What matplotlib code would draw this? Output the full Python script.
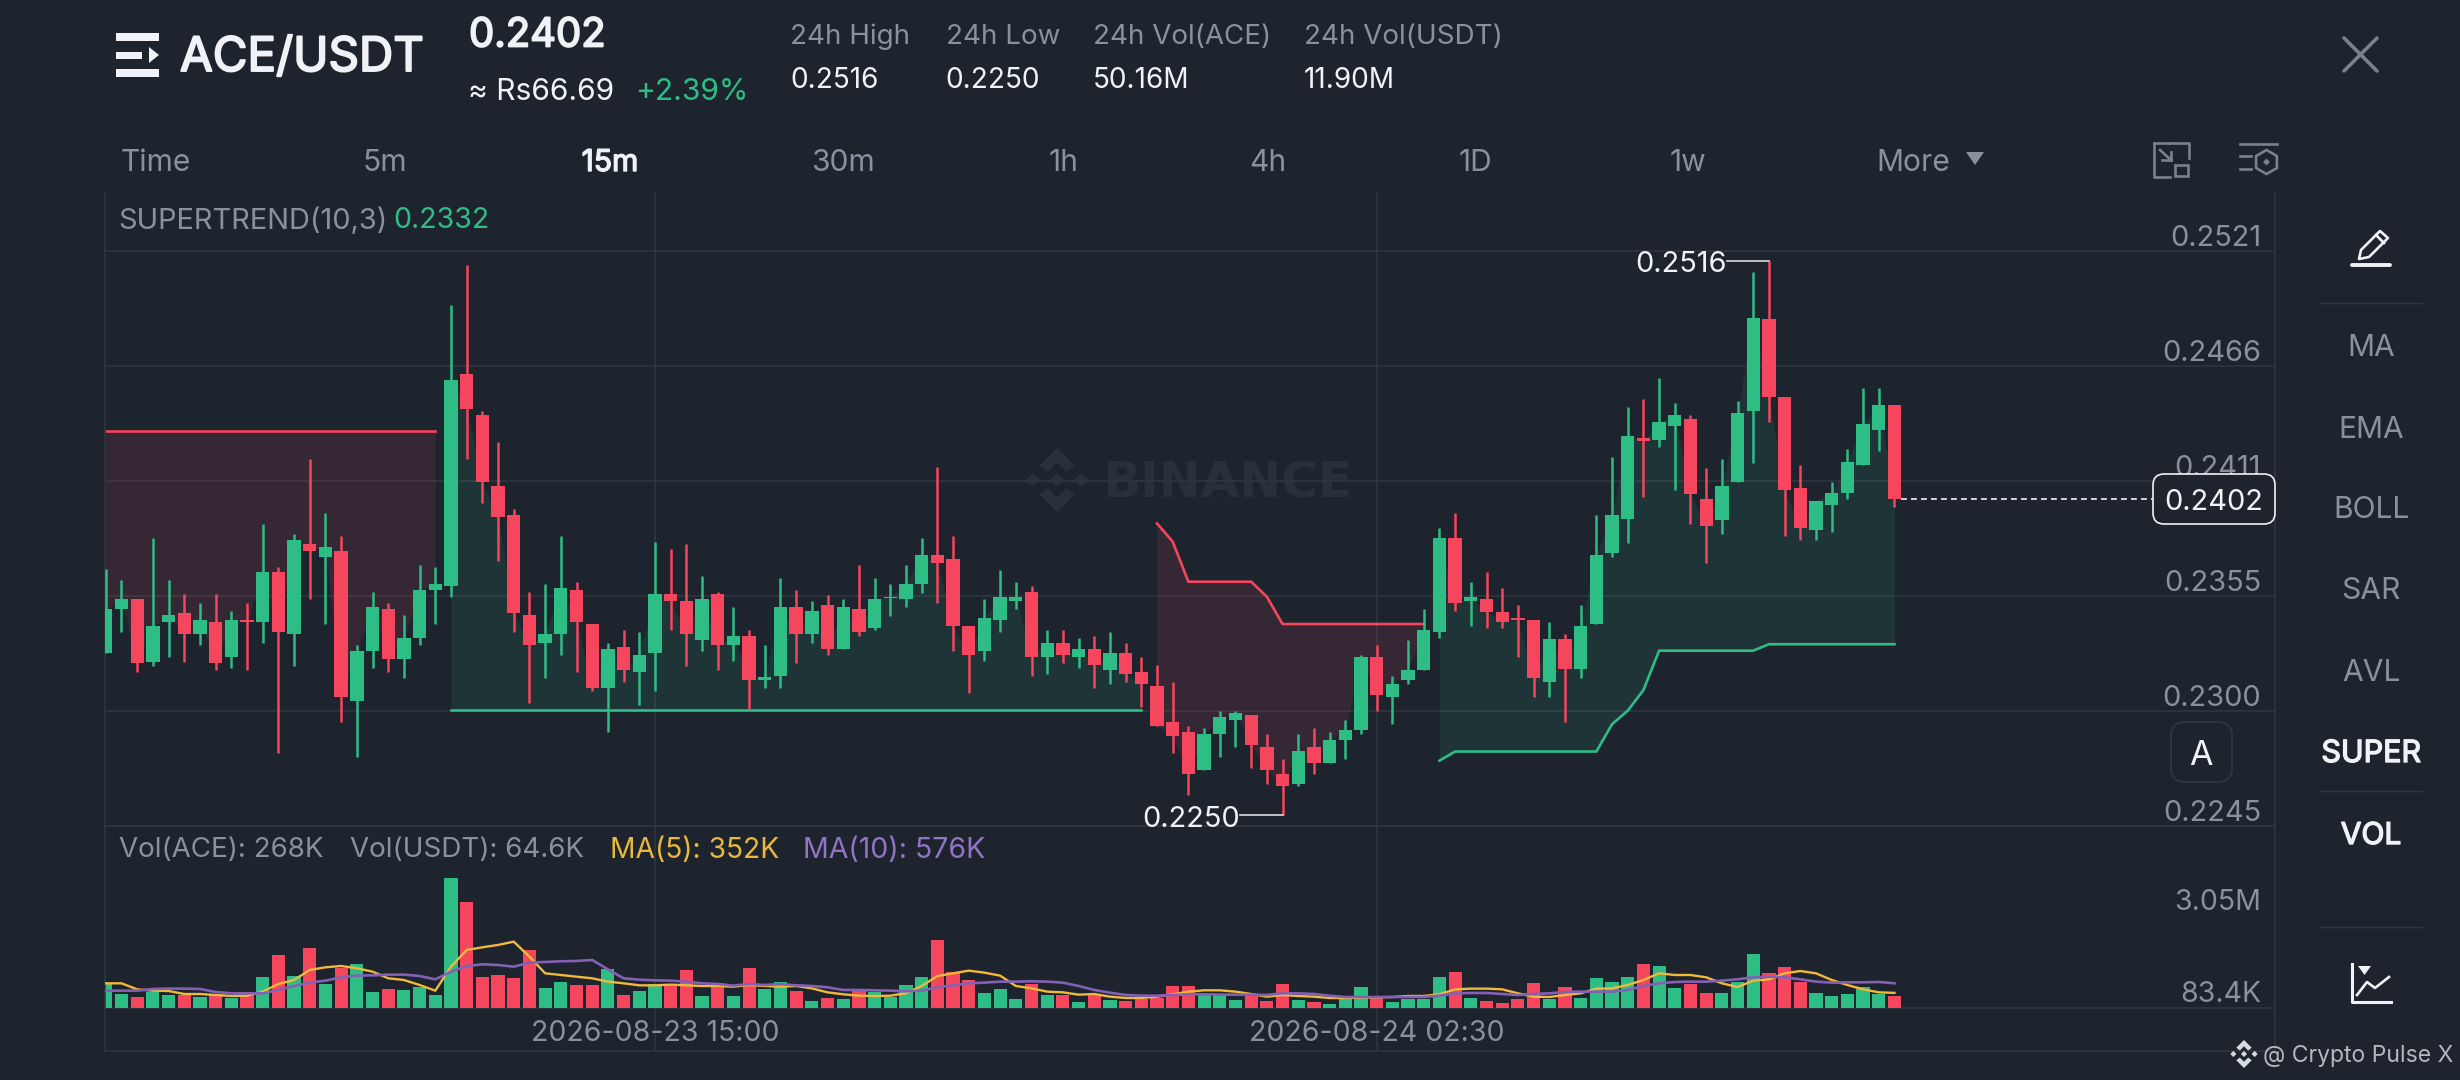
import matplotlib
matplotlib.use("Agg")
import matplotlib.pyplot as plt
import matplotlib.patheffects as pe
from matplotlib.patches import FancyBboxPatch, Polygon, Rectangle, RegularPolygon

plt.rcParams['font.family'] = ['Inter', 'Noto Sans', 'DejaVu Sans']

# ---------- data ----------
opens = [0.23280,0.23490,0.23539,0.23237,0.23429,0.23469,0.23370,0.23429,0.23259,0.23439,0.23429,0.23669,0.23370,0.23800,0.23739,0.23770,0.23050,0.23290,0.23490,0.23250,0.23349,0.23579,0.23600,0.24619,0.24419,0.24079,0.23939,0.23459,0.23328,0.23370,0.23579,0.23419,0.23109,0.23309,0.23189,0.23280,0.23560,0.23530,0.23341,0.23560,0.23319,0.23359,0.23149,0.23170,0.23499,0.23370,0.23509,0.23298,0.23490,0.23399,0.23543,0.23539,0.23610,0.23749,0.23730,0.23410,0.23288,0.23439,0.23528,0.23570,0.23259,0.23328,0.23259,0.23298,0.23199,0.23279,0.23189,0.23119,0.22949,0.22899,0.22719,0.22888,0.22959,0.22979,0.22829,0.22698,0.22648,0.22829,0.22749,0.22859,0.22909,0.23259,0.23069,0.23149,0.23199,0.23379,0.23829,0.23530,0.23540,0.23478,0.23448,0.23439,0.23139,0.23348,0.23201,0.23418,0.23760,0.23921,0.24310,0.24299,0.24370,0.24401,0.24020,0.23919,0.24101,0.24440,0.24880,0.24510,0.24070,0.23871,0.23989,0.24049,0.24179,0.24351,0.24471]
highs = [0.23680,0.23629,0.23539,0.23829,0.23629,0.23560,0.23520,0.23560,0.23479,0.23520,0.23899,0.23690,0.23850,0.24210,0.23949,0.23840,0.23319,0.23570,0.23519,0.23459,0.23699,0.23690,0.24949,0.25141,0.24439,0.24290,0.23968,0.23570,0.23610,0.23840,0.23619,0.23419,0.23328,0.23389,0.23379,0.23810,0.23779,0.23800,0.23650,0.23570,0.23499,0.23389,0.23319,0.23639,0.23579,0.23528,0.23559,0.23539,0.23699,0.23640,0.23610,0.23699,0.23829,0.24170,0.23839,0.23410,0.23539,0.23679,0.23619,0.23599,0.23389,0.23389,0.23349,0.23359,0.23379,0.23328,0.23259,0.23219,0.23139,0.22928,0.22919,0.22999,0.22999,0.22979,0.22890,0.22770,0.22890,0.22919,0.22899,0.22959,0.23269,0.23319,0.23168,0.23339,0.23488,0.23879,0.23949,0.23619,0.23669,0.23590,0.23509,0.23439,0.23429,0.23369,0.23509,0.23941,0.24219,0.24461,0.24500,0.24601,0.24479,0.24419,0.24169,0.24209,0.24490,0.25110,0.25160,0.24510,0.24179,0.24008,0.24099,0.24260,0.24550,0.24550,0.24471]
lows = [0.23280,0.23381,0.23189,0.23218,0.23261,0.23237,0.23319,0.23197,0.23208,0.23199,0.23328,0.22797,0.23218,0.23539,0.23419,0.22949,0.22778,0.23208,0.23189,0.23159,0.23319,0.23419,0.23549,0.24210,0.23999,0.23720,0.23379,0.23039,0.23159,0.23269,0.23189,0.23098,0.22898,0.23138,0.23029,0.23098,0.23389,0.23218,0.23288,0.23199,0.23239,0.23008,0.23109,0.23109,0.23229,0.23328,0.23269,0.23298,0.23359,0.23389,0.23458,0.23499,0.23568,0.23519,0.23288,0.23088,0.23239,0.23379,0.23488,0.23168,0.23179,0.23229,0.23208,0.23109,0.23128,0.23139,0.23018,0.22930,0.22799,0.22599,0.22719,0.22779,0.22829,0.22728,0.22648,0.22500,0.22639,0.22699,0.22749,0.22770,0.22888,0.22999,0.22939,0.23128,0.23199,0.23349,0.23479,0.23408,0.23400,0.23400,0.23259,0.23069,0.23069,0.22949,0.23160,0.23418,0.23741,0.23809,0.24030,0.24270,0.24059,0.23900,0.23710,0.23850,0.24101,0.24190,0.24390,0.23840,0.23820,0.23820,0.23859,0.24020,0.24179,0.24250,0.23981]
closes = [0.23488,0.23539,0.23229,0.23408,0.23459,0.23370,0.23439,0.23229,0.23439,0.23427,0.23669,0.23379,0.23819,0.23770,0.23789,0.23069,0.23288,0.23499,0.23250,0.23349,0.23579,0.23610,0.24589,0.24450,0.24099,0.23930,0.23469,0.23319,0.23370,0.23589,0.23429,0.23109,0.23298,0.23199,0.23269,0.23560,0.23530,0.23370,0.23539,0.23319,0.23359,0.23149,0.23162,0.23499,0.23370,0.23479,0.23298,0.23499,0.23379,0.23539,0.23549,0.23610,0.23749,0.23709,0.23410,0.23269,0.23448,0.23549,0.23549,0.23259,0.23328,0.23269,0.23298,0.23219,0.23279,0.23179,0.23128,0.22930,0.22879,0.22699,0.22890,0.22970,0.22989,0.22839,0.22719,0.22639,0.22808,0.22749,0.22859,0.22909,0.23259,0.23079,0.23128,0.23199,0.23389,0.23829,0.23519,0.23549,0.23478,0.23429,0.23437,0.23161,0.23348,0.23201,0.23408,0.23749,0.23940,0.24320,0.24298,0.24389,0.24419,0.24041,0.23890,0.24080,0.24430,0.24889,0.24510,0.24059,0.23881,0.24008,0.24049,0.24198,0.24380,0.24469,0.24020]

# supertrend segments: (start index, values)
st_red_1 = [0.24346] * 22
st_green_1 = [0.23005] * 45
st_red_2 = [0.23901,0.23813,0.23621,0.23621,0.23621,0.23621,0.23621,0.23549,0.23418,0.23418,0.23418,0.23418,0.23418,0.23418,0.23418,0.23418,0.23418,0.23418]
st_green_2 = [0.22762,0.22806,0.22806,0.22806,0.22806,0.22806,0.22806,0.22806,0.22806,0.22806,0.22806,0.22937,0.23002,0.23101,0.23290,0.23290,0.23290,0.23290,0.23290,0.23290,0.23290,0.23321,0.23321,0.23321,0.23321,0.23321,0.23321,0.23321,0.23321,0.23321]

volumes = [575,326,249,365,303,303,264,303,241,303,730,1235,746,1391,559,925,1026,365,435,420,497,295,3030,2471,730,769,692,1344,458,614,536,536,901,311,396,559,513,894,272,591,287,932,435,598,404,163,233,202,420,381,264,536,723,1577,839,660,342,435,202,559,295,311,148,311,194,163,218,233,521,521,311,303,194,280,163,567,186,148,85,202,490,225,148,218,202,730,831,241,155,109,210,583,202,490,233,699,614,715,1018,979,466,559,357,350,598,1251,824,956,598,357,287,319,490,326,268]
ma5_vol = [575,575,435,404,396,326,326,303,280,287,381,559,653,886,948,979,925,847,692,653,536,404,963,1352,1414,1469,1546,1197,808,769,730,692,614,575,528,528,544,528,513,513,497,536,513,497,513,458,365,319,287,280,287,342,513,746,808,870,824,754,513,458,381,365,311,326,264,233,233,264,319,381,412,412,381,326,264,303,280,264,233,233,241,249,256,280,280,319,435,451,451,435,342,264,256,303,342,451,458,536,653,808,769,769,715,575,490,637,668,808,862,808,653,536,435,365,352]
ma10_vol = [404,404,404,443,451,451,443,373,342,342,342,420,513,591,637,715,754,761,777,777,746,668,847,979,1018,1002,963,1057,1072,1088,1096,1119,901,692,660,645,637,614,575,559,521,559,536,559,528,513,482,420,420,412,404,389,404,482,528,575,591,614,614,622,614,591,513,420,357,303,287,287,303,319,319,311,311,311,303,342,342,326,287,256,256,256,256,256,256,287,342,350,350,326,303,326,342,373,381,381,381,420,513,575,606,614,614,637,668,715,730,715,668,614,591,598,598,606,576]

price_ticks = [0.2521, 0.24658, 0.24106, 0.23554, 0.23002, 0.2245]
price_tick_labels = ['0.2521', '0.2466', '0.2411', '0.2355', '0.2300', '0.2245']
date_ticks = [35, 81]
date_labels = ['2026-08-23 15:00', '2026-08-24 02:30']
period_tabs = [('Time', 121, 'left'), ('5m', 385, 'center'), ('30m', 843, 'center'), ('1h', 1064, 'center'),
               ('4h', 1268, 'center'), ('1D', 1476, 'center'), ('1w', 1688, 'center'), ('More', 1876, 'left')]
side_labels = [('MA', 345), ('EMA', 427), ('BOLL', 507), ('SAR', 588), ('AVL', 670)]

# ---------- colours ----------
BG = '#1e242e'
GRID = '#30363f'
GREEN = '#2ebd85'
RED = '#f6465d'
GRAY = '#8a919e'
WHITE = '#f0f2f5'
YELLOW = '#f0b93a'
PURPLE = '#8460b4'

W, H = 2460, 1080
fig = plt.figure(figsize=(W / 100, H / 100), dpi=100, facecolor=BG)

def rect(l, t, r, b):
    return [l / W, 1 - b / H, (r - l) / W, (b - t) / H]

def overlay(z):
    a = fig.add_axes([0, 0, 1, 1], zorder=z)
    a.set_xlim(0, W); a.set_ylim(H, 0); a.axis('off')
    a.patch.set_alpha(0)
    return a

bg = overlay(0)
ui = overlay(5)
pt = 0.72  # points per pixel at 100 dpi
DY = 3     # Inter's box sits a little high when centred

def T(x, y, s, em, c=GRAY, ha='left', stroke=0, ax=ui, **kw):
    t = ax.text(x, y + DY, s, fontsize=em * pt, color=c, ha=ha, va='center', **kw)
    if stroke:
        t.set_path_effects([pe.withStroke(linewidth=stroke, foreground=c)])
    return t

def logo(ax, cx, cy, r, c):
    pts = [
        [(0, -1), (.55, -.45), (.3, -.25), (0, -.55), (-.3, -.25), (-.55, -.45)],
        [(0, 1), (.55, .45), (.3, .25), (0, .55), (-.3, .25), (-.55, .45)],
        [(0, -.22), (.22, 0), (0, .22), (-.22, 0)],
        [(-.76, -.22), (-.54, 0), (-.76, .22), (-.98, 0)],
        [(.76, -.22), (.98, 0), (.76, .22), (.54, 0)],
    ]
    for p in pts:
        ax.add_patch(Polygon([(cx + r * a, cy + r * b) for a, b in p], closed=True, fc=c, ec='none'))

# watermark
logo(bg, 1057, 480, 32, '#2a303b')
bg.text(1102, 484, 'BINANCE', fontsize=50 * pt, color='#2a303b', ha='left', va='center',
        family='DejaVu Sans', fontweight='bold')

# ---------- price pane ----------
n = len(closes)
idx = list(range(n))
X0, STEP = 105.8, 15.69
L, R = 105, 2275
xlim = ((L - X0) / STEP, (R - X0) / STEP)
Y_TOP, Y_BOT = 193, 825.7
PY = 0.0055 / 115 * 1.0036

ax = fig.add_axes(rect(L, Y_TOP, R, Y_BOT), zorder=2)
ax.patch.set_alpha(0)
ax.set_xlim(*xlim)
ax.set_ylim(0.2245, 0.2521 + (250.7 - Y_TOP) * PY)
for s in ax.spines.values():
    s.set_visible(False)
ax.spines['left'].set_visible(True); ax.spines['left'].set_color(GRID); ax.spines['left'].set_linewidth(1.2)
ax.spines['right'].set_visible(True); ax.spines['right'].set_color(GRID); ax.spines['right'].set_linewidth(1.2)
ax.spines['bottom'].set_visible(True); ax.spines['bottom'].set_color(GRID); ax.spines['bottom'].set_linewidth(1.4)
ax.set_yticks(price_ticks)
ax.set_xticks(date_ticks)
ax.tick_params(length=0, labelleft=False, labelbottom=False)
ax.grid(True, axis='both', color=GRID, lw=1.2, zorder=0)
ax.set_axisbelow(True)

def band(start, vals, col):
    xs = idx[start:start + len(vals)]
    cl = closes[start:start + len(vals)]
    ax.fill_between(xs, vals, cl, color=col, alpha=0.11, lw=0, zorder=1)
    ax.plot(xs, vals, color=col, lw=1.9, zorder=2, solid_joinstyle='round')

band(0, st_red_1, RED)
band(22, st_green_1, GREEN)
band(67, st_red_2, RED)
band(85, st_green_2, GREEN)

cols = [GREEN if c >= o else RED for o, c in zip(opens, closes)]
ax.vlines(idx, lows, highs, colors=cols, lw=1.8, zorder=3)
ax.bar(idx, [abs(c - o) for o, c in zip(opens, closes)], bottom=[min(o, c) for o, c in zip(opens, closes)],
       width=0.85, color=cols, zorder=4, lw=0)
ax.set_xlim(*xlim)

for v, lab in zip(price_ticks, price_tick_labels):
    ax.annotate(lab, xy=(1, v), xycoords=('axes fraction', 'data'), xytext=(-14 * pt, 12.5 * pt),
                textcoords='offset points', ha='right', va='center', color=GRAY, fontsize=29 * pt)

# high / low tags
imax = highs.index(max(highs)); imin = lows.index(min(lows))
ax.plot([imax - 2.7, imax], [highs[imax]] * 2, color='#d8dadd', lw=1.2, zorder=5)
ax.annotate(f'{highs[imax]:.4f}', xy=(imax - 2.7, highs[imax]), xytext=(0, -2.2), textcoords='offset points',
            ha='right', va='center', color=WHITE, fontsize=29 * pt)
ax.plot([imin - 2.7, imin], [lows[imin]] * 2, color='#d8dadd', lw=1.2, zorder=5)
ax.annotate(f'{lows[imin]:.4f}', xy=(imin - 2.7, lows[imin]), xytext=(0, -3), textcoords='offset points',
            ha='right', va='center', color=WHITE, fontsize=29 * pt)

# last price line
ax.plot([n - 1 + 0.4, (2153 - X0) / STEP], [closes[-1]] * 2, color=WHITE, lw=1.2, ls=(0, (3.5, 2.5)), zorder=5)
ui.add_patch(FancyBboxPatch((2153, 474), 122, 50, boxstyle='round,pad=0,rounding_size=11', fc=BG, ec=WHITE, lw=1.2))
T(2214, 499, f'{closes[-1]:.4f}', 29, WHITE, ha='center')

# ---------- volume pane ----------
V_TOP, V_BOT, V_BASE = 825.7, 1050.7, 1008
KPX = 23.3
av = fig.add_axes(rect(L, V_TOP, R, V_BOT), zorder=2)
av.patch.set_alpha(0)
av.set_xlim(*xlim)
av.set_ylim(-(V_BOT - V_BASE) * KPX, (V_BASE - V_TOP) * KPX)
for s in av.spines.values():
    s.set_color(GRID); s.set_linewidth(1.2)
av.spines['top'].set_visible(False)
av.set_yticks([0]); av.set_xticks(date_ticks)
av.tick_params(length=0, labelleft=False, labelbottom=False)
av.grid(True, axis='both', color=GRID, lw=1.2, zorder=0)
av.set_axisbelow(True)
av.bar(idx, volumes, width=0.84, color=cols, lw=0, zorder=2)
av.plot(idx, ma5_vol, color=YELLOW, lw=1.7, zorder=3)
av.plot(idx, ma10_vol, color=PURPLE, lw=1.9, zorder=4)
av.set_xlim(*xlim)
for d, lab in zip(date_ticks, date_labels):
    av.annotate(lab, xy=(d, 0), xycoords=('data', 'axes fraction'), xytext=(0, 17.5 * pt), textcoords='offset points',
                ha='center', va='center', color=GRAY, fontsize=28.5 * pt)

T(2261, 899, '3.05M', 28.5, GRAY, ha='right')
T(2261, 991, '83.4K', 28.5, GRAY, ha='right')
T(119, 847, 'Vol(ACE): 268K', 27.8)
T(350, 847, 'Vol(USDT): 64.6K', 27.8)
T(610, 847, 'MA(5): 352K', 28.2, '#e8b83a')
T(803, 847, 'MA(10): 576K', 28.5, '#9273c6')

# ---------- header ----------
ui.add_patch(Rectangle((115.5, 33), 43.5, 8, fc=WHITE, ec='none'))
ui.add_patch(Rectangle((115.5, 52), 26, 7, fc=WHITE, ec='none'))
ui.add_patch(Polygon([(149, 47), (159, 55), (149, 63)], closed=True, fc=WHITE, ec='none'))
ui.add_patch(Rectangle((115.5, 69), 43.5, 8, fc=WHITE, ec='none'))
T(180, 56, 'ACE/USDT', 47.5, WHITE, stroke=1.4)
T(469, 33, '0.2402', 40, WHITE, stroke=1.3)
T(468, 89, '≈ Rs66.69', 30, WHITE)
T(635, 89, '+2.39%', 30, GREEN)
for x, a, b in [(790.5, '24h High', '0.2516'), (945.5, '24h Low', '0.2250'),
                (1093, '24h Vol(ACE)', '50.16M'), (1304, '24h Vol(USDT)', '11.90M')]:
    T(x, 34, a, 27.8, GRAY)
    T(x, 78, b, 28, WHITE)

for s, x, h in period_tabs:
    T(x, 160, s, 30, GRAY, ha=h)
T(610, 160, '15m', 30, WHITE, ha='center', stroke=1)
ui.add_patch(Polygon([(1966, 152), (1984, 152), (1975, 165)], closed=True, fc=GRAY, ec='none'))

T(118, 218, 'SUPERTREND(10,3)', 29)
T(393, 218, '0.2332', 28.5, GREEN)

# icons
ICON = '#7a818d'
ui.plot([2344, 2377], [38, 71], color=ICON, lw=2.6, solid_capstyle='round')
ui.plot([2377, 2344], [38, 71], color=ICON, lw=2.6, solid_capstyle='round')
ui.plot([2169, 2189, 2189], [143, 143, 158], color=ICON, lw=1.9)
ui.plot([2154, 2154, 2170], [143, 177, 177], color=ICON, lw=1.9)
ui.plot([2154, 2169], [143, 143], color=ICON, lw=1.9)
ui.add_patch(Rectangle((2175, 165), 13, 11, fc='none', ec=ICON, lw=1.9))
ui.plot([2160, 2171], [150, 160], color=ICON, lw=1.9)
ui.plot([2171, 2171], [152, 160], color=ICON, lw=1.9)
ui.plot([2162, 2171], [160, 160], color=ICON, lw=1.9)
ui.plot([2240, 2277], [144, 144], color=ICON, lw=1.9)
ui.plot([2240, 2251], [156, 156], color=ICON, lw=1.9)
ui.plot([2240, 2251], [169, 169], color=ICON, lw=1.9)
ui.add_patch(RegularPolygon((2266.5, 162), 6, radius=12, fc='none', ec=ICON, lw=1.9))
ui.add_patch(RegularPolygon((2266.5, 162), 4, radius=3.5, fc=ICON, ec='none'))

# side bar
for s, y in side_labels:
    T(2371, y, s, 30, GRAY, ha='center')
T(2371, 751, 'SUPER', 30.5, WHITE, ha='center', stroke=1)
T(2371, 833, 'VOL', 30, WHITE, ha='center', stroke=1)
for y in (303, 791, 927):
    ui.plot([2320, 2422], [y, y], color=GRID, lw=1)
# pencil
ui.add_patch(Polygon([(2361, 250), (2380, 231), (2388, 238), (2369, 257), (2359, 259)], closed=True,
                     fc='none', ec=WHITE, lw=1.9, joinstyle='round'))
ui.plot([2376, 2384], [235, 243], color=WHITE, lw=1.9)
ui.plot([2352, 2390], [265, 265], color=WHITE, lw=2.8, solid_capstyle='round')
# chart icon
ui.plot([2352, 2352, 2391], [964, 1002, 1002], color=WHITE, lw=2.2)
ui.plot([2357, 2367, 2375, 2389], [995, 982, 988, 977], color=WHITE, lw=1.9, solid_joinstyle='round')
ui.add_patch(Polygon([(2358, 966), (2371, 966), (2364.5, 975)], closed=True, fc=WHITE, ec='none'))

# A button
ui.add_patch(FancyBboxPatch((2171, 722), 61, 60, boxstyle='round,pad=0,rounding_size=14', fc=BG, ec='#2f353f', lw=1.5))
T(2201, 753, 'A', 34, WHITE, ha='center')

# credit
logo(ui, 2244, 1054, 14, '#d8dadd')
T(2263, 1053, '@ Crypto Pulse X', 23, '#b4b8be')

fig.savefig('out.png', dpi=100, facecolor=BG)
